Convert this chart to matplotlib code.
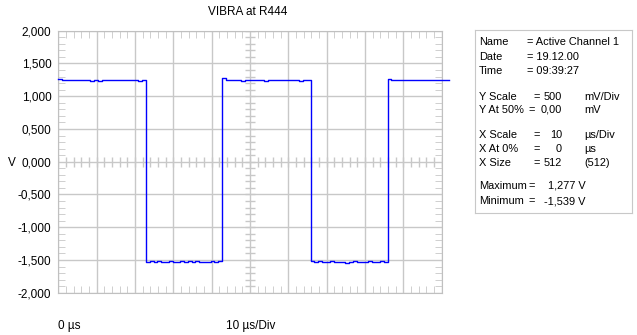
import numpy as np
import matplotlib
matplotlib.use("Agg")
import matplotlib.pyplot as plt

plt.rcParams['font.family'] = ['Liberation Sans', 'DejaVu Sans']

# edges of the square wave (µs)
edge_t = [0.0, 22.9, 42.7, 65.8, 85.9, 101.9]
high1 = [1.262, 1.245, 1.25, 1.24, 1.243, 1.24, 1.24, 1.243, 1.237, 1.24, 1.237,
         1.24, 1.24, 1.243, 1.24, 1.243, 1.24, 1.24, 1.24, 1.243, 1.237, 1.24]
low1 = [-1.525, -1.52, -1.527, -1.522, -1.525, -1.527, -1.522, -1.525, -1.527, -1.522,
        -1.527, -1.522, -1.525, -1.522, -1.527, -1.525, -1.527, -1.522, -1.525, -1.522]
high2 = [1.277, 1.25, 1.243, 1.24, 1.243, 1.237, 1.24, 1.24, 1.243, 1.24, 1.24,
         1.237, 1.24, 1.243, 1.24, 1.24, 1.243, 1.24, 1.24, 1.243, 1.237, 1.24, 1.24]
low2 = [-1.522, -1.527, -1.522, -1.525, -1.527, -1.522, -1.527, -1.525, -1.53, -1.539,
        -1.527, -1.522, -1.527, -1.525, -1.527, -1.522, -1.527, -1.525, -1.522, -1.525]
high3 = [1.27, 1.245, 1.24, 1.243, 1.24, 1.24, 1.243, 1.24, 1.24, 1.243, 1.24,
         1.24, 1.243, 1.24, 1.24, 1.243]
plateaus = [high1, low1, high2, low2, high3]

y_ticks = [2.0, 1.5, 1.0, 0.5, 0.0, -0.5, -1.0, -1.5, -2.0]

# build trace: vertical edges between plateaus
t_all, v_all = [], []
for i, vals in enumerate(plateaus):
    ts = np.linspace(edge_t[i], edge_t[i + 1], len(vals) + 1)
    for k, v in enumerate(vals):
        t_all += [ts[k], ts[k + 1]]
        v_all += [v, v]

W, H = 637, 335
fig = plt.figure(figsize=(W / 100, H / 100), dpi=100)
L, R, T, B = 58.3, 441.7, 30.7, 292.7
ax = fig.add_axes([L / W, 1 - B / H, (R - L) / W, (B - T) / H])

grid_c = '#c8c8c8'
ax.set_xlim(0, 100)
ax.set_ylim(-2, 2)
ax.set_xticks(np.arange(0, 101, 10))
ax.set_yticks(y_ticks)
ax.set_xticks(np.arange(0, 101, 2), minor=True)
ax.set_yticks(np.arange(-2, 2.01, 0.1), minor=True)
ax.grid(True, which='major', color=grid_c, lw=1)
ax.set_yticklabels([f"{v:.3f}".replace('.', ',') for v in y_ticks], fontsize=8.5)
ax.set_xticklabels([])
ax.tick_params(which='major', length=0, pad=5)
ax.tick_params(which='minor', direction='in', length=5, color=grid_c,
               top=True, right=True, bottom=True, left=True)
for s in ax.spines.values():
    s.set_color('#c0c0c0')

# centre cross scales
xm = np.arange(0, 101, 2)
ym = np.arange(-2, 2.01, 0.1)
dy = 5 * 4 / (B - T)
dx = 5 * 100 / (R - L)
ax.vlines(xm, -dy, dy, color=grid_c, lw=1)
ax.hlines(ym, 50 - dx, 50 + dx, color=grid_c, lw=1)

ax.plot(t_all, v_all, color='#0000ff', lw=1.0, clip_on=False, zorder=5)

fig.text(248 / W, 1 - 12 / H, "VIBRA at R444", ha='center', va='center', fontsize=8.5)
fig.text(12 / W, 1 - 163 / H, "V", ha='center', va='center', fontsize=8.5)
fig.text(58 / W, 1 - 326 / H, "0 µs", ha='left', va='center', fontsize=8.5)
fig.text(251 / W, 1 - 326 / H, "10 µs/Div", ha='center', va='center', fontsize=8.5)

# info box
bx = fig.add_axes([475 / W, 1 - 213 / H, (632 - 475) / W, (213 - 30) / H])
bx.set_xlim(475, 632)
bx.set_ylim(213, 30)
bx.set_xticks([])
bx.set_yticks([])
for s in bx.spines.values():
    s.set_color('#c8c8c8')

fs = 7.9
def row(y, label, eq_x, eq, val=None, val_x=None, unit=None):
    bx.text(479, y, label, va='center', fontsize=fs)
    bx.text(eq_x, y, eq, va='center', fontsize=fs)
    if val is not None:
        bx.text(val_x, y, val, va='center', ha='right', fontsize=fs)
    if unit is not None:
        bx.text(584, y, unit, va='center', fontsize=fs)

row(42, "Name", 527, "= Active Channel 1")
row(57, "Date", 527, "= 19.12.00")
row(71, "Time", 527, "= 09:39:27")
row(97, "Y Scale", 533, "=", "500", 562, "mV/Div")
row(110, "Y At 50%", 528, "=", "0,00", 562, "mV")
row(135, "X Scale", 533, "=", "10", 562, "µs/Div")
row(149, "X At 0%", 533, "=", "0", 562, "µs")
row(163, "X Size", 533, "=", "512", 562, "(512)")
row(186, "Maximum", 528, "=", "1,277 V", 586)
row(201, "Minimum", 528, "=", "-1,539 V", 586)

fig.savefig("out.png", dpi=100)
